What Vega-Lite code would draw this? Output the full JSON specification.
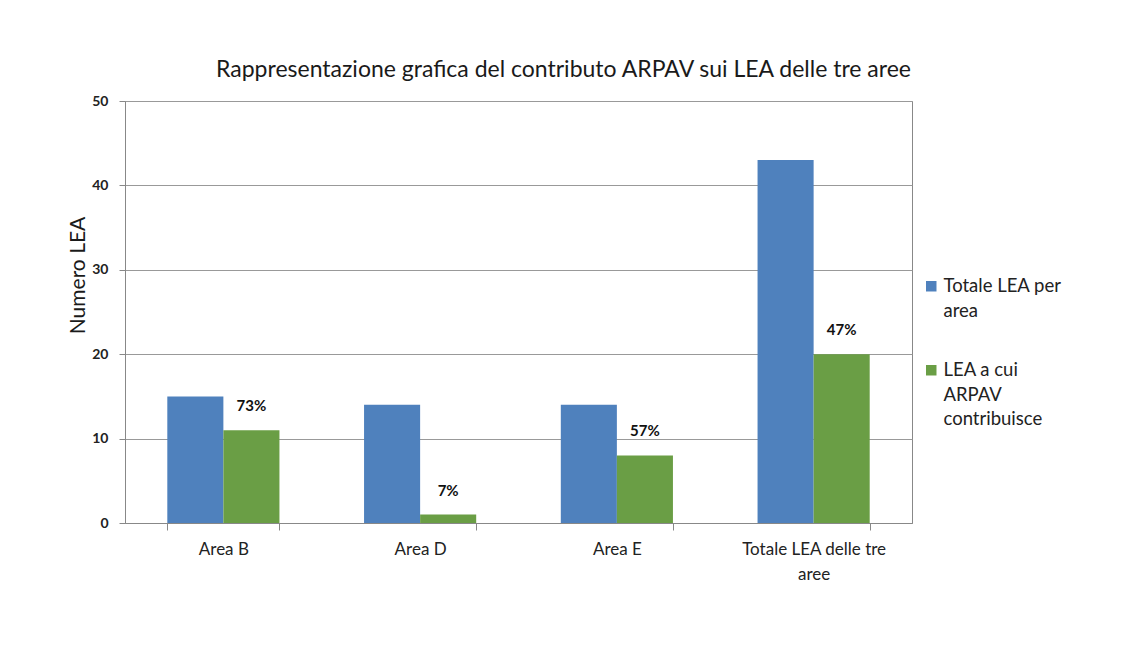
{
  "$schema": "https://vega.github.io/schema/vega-lite/v6.json",
  "width": 787,
  "height": 422,
  "autosize": {"type": "none"},
  "padding": {"left": 125, "top": 101, "right": 232, "bottom": 123},
  "background": "white",
  "title": {
    "text": "Rappresentazione grafica del contributo ARPAV sui LEA delle tre aree",
    "font": "Lato",
    "fontSize": 23,
    "fontWeight": "normal",
    "color": "#1a1a1a",
    "anchor": "middle",
    "dx": 45,
    "offset": 12
  },
  "data": {
    "values": [
      {"area": "Area B", "serie": "Totale LEA per area", "valore": 15, "pct": ""},
      {"area": "Area B", "serie": "LEA a cui ARPAV contribuisce", "valore": 11, "pct": "73%"},
      {"area": "Area D", "serie": "Totale LEA per area", "valore": 14, "pct": ""},
      {"area": "Area D", "serie": "LEA a cui ARPAV contribuisce", "valore": 1, "pct": "7%"},
      {"area": "Area E", "serie": "Totale LEA per area", "valore": 14, "pct": ""},
      {"area": "Area E", "serie": "LEA a cui ARPAV contribuisce", "valore": 8, "pct": "57%"},
      {"area": "Totale LEA delle tre aree", "serie": "Totale LEA per area", "valore": 43, "pct": ""},
      {"area": "Totale LEA delle tre aree", "serie": "LEA a cui ARPAV contribuisce", "valore": 20, "pct": "47%"}
    ]
  },
  "encoding": {
    "x": {
      "field": "area",
      "type": "nominal",
      "sort": null,
      "scale": {"paddingInner": 0.43, "paddingOuter": 0.215},
      "axis": {
        "title": null,
        "labelAngle": 0,
        "labelFont": "Lato",
        "labelFontSize": 17,
        "labelColor": "#222",
        "labelPadding": 11,
        "labelLineHeight": 25,
        "labelExpr": "datum.label == 'Totale LEA delle tre aree' ? ['Totale LEA delle tre', 'aree'] : datum.label",
        "tickBand": "extent",
        "tickSize": 7,
        "tickColor": "#888",
        "domainColor": "#888",
        "grid": false
      }
    },
    "xOffset": {
      "field": "serie",
      "type": "nominal",
      "sort": ["Totale LEA per area", "LEA a cui ARPAV contribuisce"],
      "scale": {"paddingInner": 0, "paddingOuter": 0}
    },
    "y": {
      "field": "valore",
      "type": "quantitative",
      "scale": {"domain": [0, 50]},
      "axis": {
        "title": "Numero LEA",
        "titleFont": "Lato",
        "titleFontSize": 21,
        "titleFontWeight": "normal",
        "titleColor": "#1a1a1a",
        "titleX": -47,
        "titleY": 174,
        "titleAngle": -90,
        "titleAlign": "center",
        "titleBaseline": "middle",
        "values": [0, 10, 20, 30, 40, 50],
        "labelFont": "Lato",
        "labelFontSize": 14,
        "labelFontWeight": "bold",
        "labelColor": "#222",
        "labelPadding": 11,
        "tickSize": 6,
        "tickColor": "#888",
        "domainColor": "#888",
        "gridColor": "#999",
        "gridWidth": 1
      }
    }
  },
  "layer": [
    {
      "mark": {"type": "bar"},
      "encoding": {
        "color": {
          "field": "serie",
          "type": "nominal",
          "sort": ["Totale LEA per area", "LEA a cui ARPAV contribuisce"],
          "scale": {"range": ["#4F81BD", "#6A9E45"]},
          "legend": {
            "title": null,
            "orient": "none",
            "legendX": 797,
            "legendY": 176,
            "symbolType": "square",
            "symbolSize": 110,
            "symbolStrokeWidth": 0,
            "labelFont": "Lato",
            "labelFontSize": 18.5,
            "labelColor": "#222",
            "labelLimit": 300,
            "labelOffset": 3,
            "rowPadding": 40,
            "labelExpr": "datum.label == 'Totale LEA per area' ? ['Totale LEA per', 'area'] : ['LEA a cui', 'ARPAV', 'contribuisce']",
            "encoding": {
              "labels": {
                "enter": {"lineHeight": {"value": 24.5}},
                "update": {"lineHeight": {"value": 24.5}}
              }
            }
          }
        }
      }
    },
    {
      "transform": [{"filter": "datum.pct != ''"}],
      "mark": {
        "type": "text",
        "dy": -24,
        "font": "Lato",
        "fontSize": 15,
        "fontWeight": "bold",
        "color": "#111"
      },
      "encoding": {
        "text": {"field": "pct"}
      }
    }
  ],
  "config": {
    "view": {"stroke": "#888", "strokeWidth": 1},
    "style": {"guide-label": {"lineHeight": 24.5}}
  }
}
